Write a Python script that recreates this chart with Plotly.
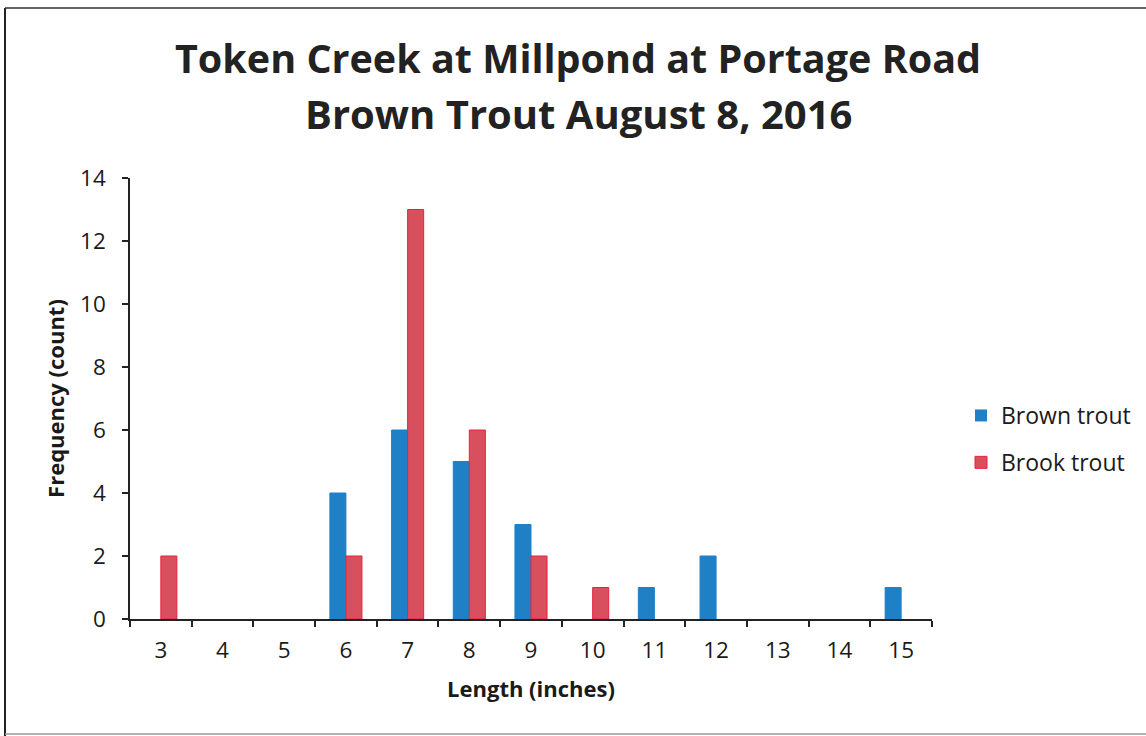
import plotly.graph_objects as go

lengths = ["3", "4", "5", "6", "7", "8", "9", "10", "11", "12", "13", "14", "15"]
brown_trout = [0, 0, 0, 4, 6, 5, 3, 0, 1, 2, 0, 0, 1]
brook_trout = [2, 0, 0, 2, 13, 6, 2, 1, 0, 0, 0, 0, 0]
title_lines = ["Token Creek at Millpond at Portage Road", "Brown Trout August 8, 2016"]

FONT = "Open Sans"
W, H = 1146, 736
L, R, T, B = 130, 214, 178, 117
pw, ph = W - L - R, H - T - B

def px2paper_x(px):
    return (px - L) / pw

def px2paper_y(py):
    return (H - B - py) / ph

fig = go.Figure()
fig.add_trace(go.Bar(
    x=lengths, y=brown_trout, name="Brown trout",
    marker=dict(color="#1f80c6", line=dict(color="#1f80c6", width=[1 if v else 0 for v in brown_trout])),
    legendgroup="a",
))
fig.add_trace(go.Bar(
    x=lengths, y=brook_trout, name="Brook trout",
    marker=dict(color="#d8505e", line=dict(color="#e8223c", width=[1 if v else 0 for v in brook_trout])),
    legendgroup="b",
))

annotations = []
for text, ypx, size in zip(title_lines, [58, 114], [39.5, 40]):
    annotations.append(dict(
        text=f"<b>{text}</b>", xref="paper", yref="paper",
        x=px2paper_x(578), y=px2paper_y(ypx), xanchor="center", yanchor="middle",
        showarrow=False, font=dict(family=FONT, size=size, color="#222222"),
    ))

fig.update_layout(
    width=W, height=H,
    margin=dict(l=L, r=R, t=T, b=B, autoexpand=False),
    paper_bgcolor="white", plot_bgcolor="white",
    barmode="group", bargap=0.48, bargroupgap=0,
    font=dict(family=FONT, color="#1a1a1a"),
    annotations=annotations,
    showlegend=True,
    legend=dict(
        x=px2paper_x(961), xanchor="left", y=px2paper_y(394), yanchor="top",
        font=dict(family=FONT, size=23, color="#1a1a1a"),
        traceorder="grouped", tracegroupgap=14, itemwidth=30,
        bgcolor="rgba(0,0,0,0)",
    ),
    xaxis=dict(
        type="category", tickson="boundaries",
        showline=True, linecolor="#222222", linewidth=1.5,
        ticks="outside", ticklen=6, tickcolor="#222222", tickwidth=1.5,
        ticklabelstandoff=10,
        tickfont=dict(family=FONT, size=22.5, color="#1a1a1a"),
        showgrid=False, zeroline=False,
        title=dict(text="<b>Length (inches)</b>", font=dict(family=FONT, size=22, color="#1a1a1a"), standoff=18),
    ),
    yaxis=dict(
        range=[0, 14], dtick=2,
        showline=True, linecolor="#222222", linewidth=1.5,
        ticks="outside", ticklen=6, tickcolor="#222222", tickwidth=1.5,
        ticklabelstandoff=12,
        tickfont=dict(family=FONT, size=22.5, color="#1a1a1a"),
        showgrid=False, zeroline=False,
        title=dict(text="<b>Frequency (count)</b>", font=dict(family=FONT, size=22, color="#1a1a1a"), standoff=9),
    ),
    shapes=[
        dict(type="line", xref="paper", yref="paper",
             x0=px2paper_x(5), x1=px2paper_x(5), y0=px2paper_y(8), y1=px2paper_y(740),
             line=dict(color="#222222", width=2)),
        dict(type="line", xref="paper", yref="paper",
             x0=px2paper_x(5), x1=px2paper_x(1150), y0=px2paper_y(8), y1=px2paper_y(8),
             line=dict(color="#333333", width=1.5)),
        dict(type="line", xref="paper", yref="paper",
             x0=px2paper_x(5), x1=px2paper_x(1150), y0=px2paper_y(734), y1=px2paper_y(734),
             line=dict(color="#999999", width=1.5)),
    ],
)

fig.write_html("out.html", config={"displayModeBar": False},
               post_script="document.body.style.margin='0px';document.body.style.overflow='hidden';")
